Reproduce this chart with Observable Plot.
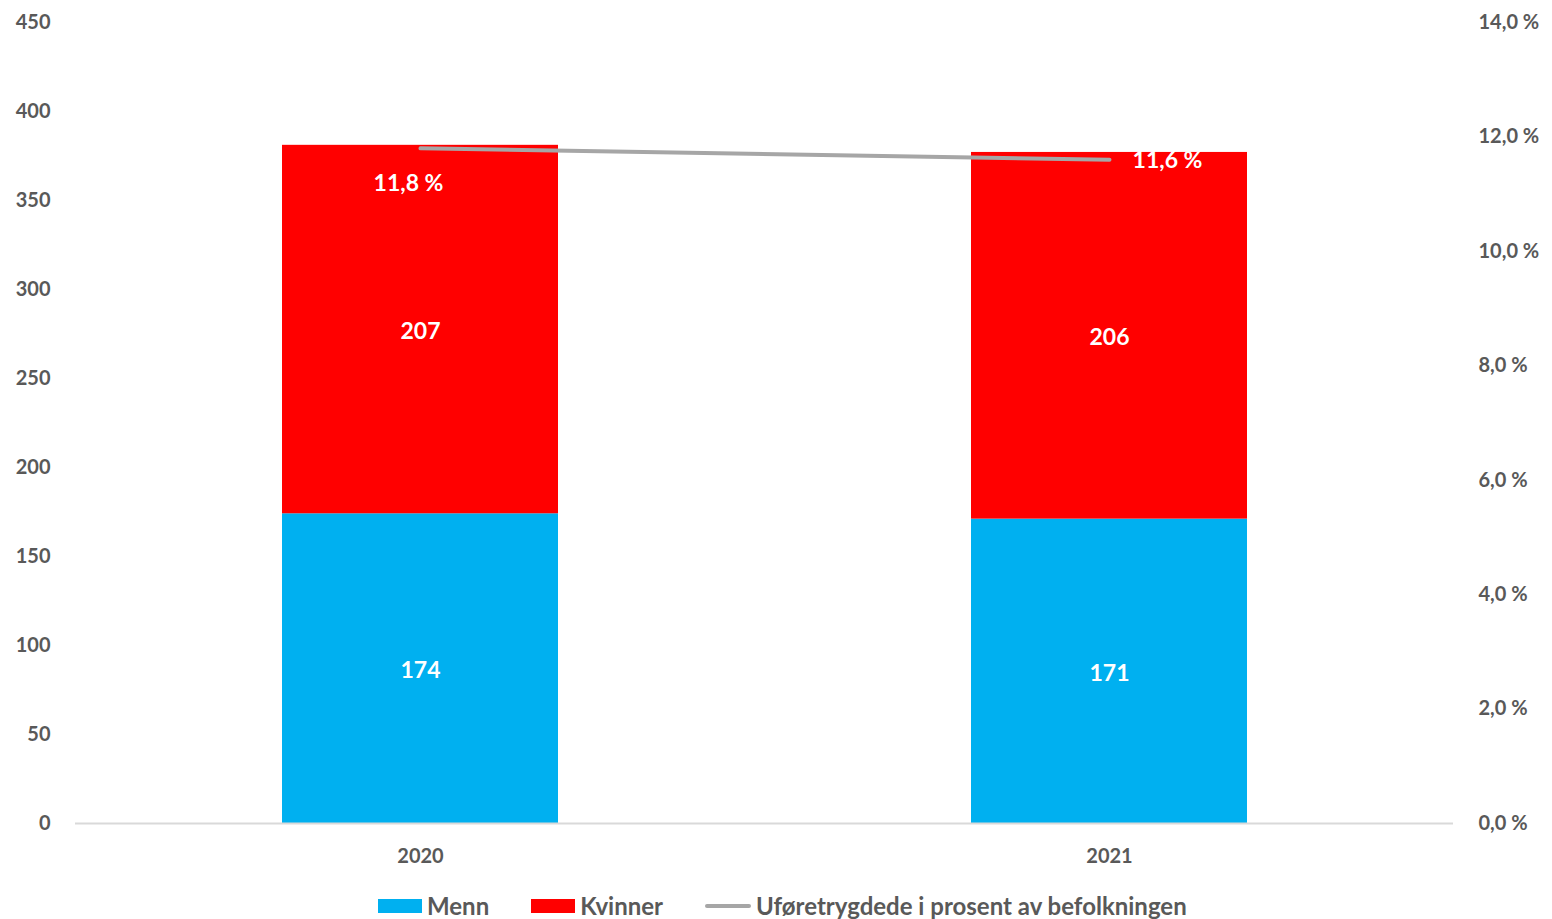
<!DOCTYPE html>
<html><head><meta charset="utf-8">
<script src="https://cdn.jsdelivr.net/npm/d3@7"></script>
<script src="https://cdn.jsdelivr.net/npm/@observablehq/plot@0.6"></script>
<style>
body{margin:0;background:#fff;font-family:Lato,"Open Sans",sans-serif;}
#legend{display:flex;justify-content:flex-start;align-items:center;height:39px;margin-top:6px;padding-left:378px;font-size:24px;font-weight:700;color:#595959;}
.it{display:flex;align-items:center;margin-right:42px}
.sw{width:44px;height:14px;margin-right:5px}
.ln{width:46px;height:4px;border-radius:2px;margin-right:5px;background:#a6a6a6}
</style></head><body>
<div id="chart"></div>
<div id="legend"></div>
<script>
const years = ["2020", "2021"];
const menn = [174, 171];
const kvinner = [207, 206];
const andel = [11.8, 11.6];
const leftTicks = [0, 50, 100, 150, 200, 250, 300, 350, 400, 450];
const rightTicks = [0, 2, 4, 6, 8, 10, 12, 14];
const seriesNames = ["Menn", "Kvinner", "Uføretrygdede i prosent av befolkningen"];
const colors = ["#00b0f0", "#ff0000", "#a6a6a6"];

const yMax = 450, pMax = 14;
const toY = p => p / pMax * yMax;
const fmtP = p => p.toFixed(1).replace(".", ",") + " %";

const bars = [];
years.forEach((y, i) => {
  bars.push({year: y, series: "Menn", value: menn[i]});
  bars.push({year: y, series: "Kvinner", value: kvinner[i]});
});
const line = years.map((y, i) => ({year: y, p: andel[i], v: toY(andel[i])}));

const plot = Plot.plot({
  width: 1552, height: 880,
  marginTop: 22, marginBottom: 57, marginLeft: 75, marginRight: 99,
  style: {fontFamily: "Lato, 'Open Sans', sans-serif", fontSize: "20px", fontWeight: 700, color: "#595959", background: "#fff"},
  x: {domain: years, paddingInner: 0.6, paddingOuter: 0.3, label: null},
  y: {domain: [0, yMax], label: null},
  color: {domain: ["Menn", "Kvinner"], range: colors.slice(0, 2)},
  marks: [
    Plot.axisY({ticks: leftTicks, tickSize: 0, tickPadding: 25, label: null, fontSize: 20}),
    Plot.axisY({anchor: "right", ticks: rightTicks.map(toY), tickFormat: v => fmtP(v / yMax * pMax), tickSize: 0, tickPadding: 25, textAnchor: "start", label: null, fontSize: 20}),
    Plot.axisX({tickSize: 0, tickPadding: 25, label: null, fontSize: 20}),
    Plot.barY(bars, Plot.stackY({x: "year", y: "value", fill: "series", order: ["Menn", "Kvinner"]})),
    Plot.ruleY([0], {stroke: "#d9d9d9", strokeWidth: 2}),
    Plot.text(bars, Plot.stackY({x: "year", y: "value", z: "series", order: ["Menn", "Kvinner"], text: d => String(d.value), fill: "#fff", fontSize: 23, fontWeight: 700, dy: 2})),
    Plot.line(line, {x: "year", y: "v", stroke: colors[2], strokeWidth: 4, strokeLinecap: "round"}),
    Plot.text(line.filter((d, i) => i === 0), {x: "year", y: "v", text: d => fmtP(d.p), fill: "#fff", fontSize: 23, fontWeight: 700, dx: -12, dy: 35}),
    Plot.text(line.filter((d, i) => i === 1), {x: "year", y: "v", text: d => fmtP(d.p), fill: "#fff", fontSize: 23, fontWeight: 700, dx: 58, dy: 1})
  ]
});
document.getElementById("chart").appendChild(plot);

const lg = document.getElementById("legend");
seriesNames.forEach((n, i) => {
  const it = document.createElement("div"); it.className = "it";
  const sw = document.createElement("div"); sw.className = i < 2 ? "sw" : "ln";
  if (i < 2) sw.style.background = colors[i];
  const t = document.createElement("span"); t.textContent = n;
  it.appendChild(sw); it.appendChild(t); lg.appendChild(it);
});
</script></body></html>
